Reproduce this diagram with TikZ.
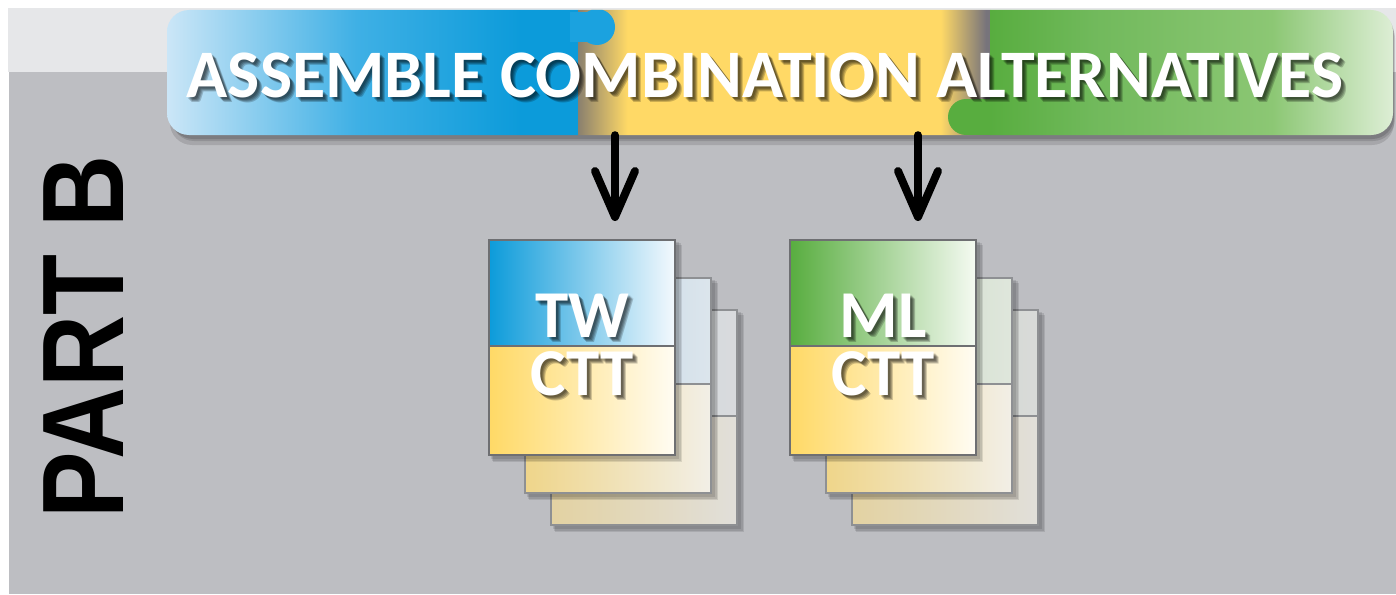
\documentclass[tikz,border=0pt]{standalone}
\usepackage{fontspec}
\usepackage{graphicx}
\usetikzlibrary{arrows.meta,shadings}
\newfontfamily\carlito{Carlito}
\newfontfamily\libsans{Liberation Sans}
\definecolor{bgG}{HTML}{BDBEC2}
\definecolor{band}{HTML}{E6E7E9}
\definecolor{blueS}{HTML}{0C9BDA}
\definecolor{blueM}{HTML}{3FB0E5}
\definecolor{blueL}{HTML}{CBE6F7}
\definecolor{blueT}{HTML}{1BA2DF}
\definecolor{yel}{HTML}{FFD966}
\definecolor{yDark}{HTML}{8A806E}
\definecolor{gDark}{HTML}{77747B}
\definecolor{greenS}{HTML}{58AD3F}
\definecolor{greenM}{HTML}{8CC774}
\definecolor{greenL}{HTML}{DDEED5}
\definecolor{cardB}{HTML}{6E6F72}
\definecolor{backB}{HTML}{8E9093}
% card colours
\definecolor{twTm}{HTML}{7FC7EC}
\definecolor{twTr}{HTML}{F4F9FD}
\definecolor{mlTm}{HTML}{A7D492}
\definecolor{mlTr}{HTML}{F5FAF2}
\definecolor{fBm}{HTML}{FDE9AE}
\definecolor{fBr}{HTML}{FFFCF3}
\definecolor{sBl}{HTML}{EFD58A}
\definecolor{sBm}{HTML}{F0E3BC}
\definecolor{sBr}{HTML}{F2EFE7}
\definecolor{tBl}{HTML}{E3D2A2}
\definecolor{tBm}{HTML}{E2DAC4}
\definecolor{tBr}{HTML}{E1DFDA}
\definecolor{twSl}{HTML}{B8D3E6}
\definecolor{twSm}{HTML}{CBDCE9}
\definecolor{twSr}{HTML}{DCE5EC}
\definecolor{twXl}{HTML}{D0D8E0}
\definecolor{twXm}{HTML}{D4D8DC}
\definecolor{twXr}{HTML}{D8DADD}
\definecolor{mlSl}{HTML}{C4DBBB}
\definecolor{mlSm}{HTML}{D4E0CF}
\definecolor{mlSr}{HTML}{DFE6DC}
\definecolor{mlXl}{HTML}{D2D9D0}
\definecolor{mlXm}{HTML}{D5D8D4}
\definecolor{mlXr}{HTML}{D8DAD8}
\pgfdeclarehorizontalshading{bluepiece}{100bp}{color(0bp)=(blueL); color(25bp)=(blueL); color(48bp)=(blueM); color(68bp)=(blueS); color(100bp)=(blueS)}
\pgfdeclarehorizontalshading{yellowpiece}{100bp}{color(0bp)=(yDark); color(25bp)=(yDark); color(31bp)=(yel); color(69bp)=(yel); color(74.5bp)=(gDark); color(100bp)=(gDark)}
\pgfdeclarehorizontalshading{greenpiece}{100bp}{color(0bp)=(greenS); color(25bp)=(greenS); color(38bp)=(greenS!85!white); color(60bp)=(greenM); color(75bp)=(greenL); color(100bp)=(greenL)}
\tikzset{
  bigarrow/.style={line width=8pt, line cap=round, -{Straight Barb[length=46pt,width=40pt,round]}},
  titlefont/.style={font=\carlito\bfseries\fontsize{68}{68}\selectfont},
  cardfont/.style={font=\carlito\bfseries\fontsize{67}{67}\selectfont},
  whitetxt/.style={text=white, inner sep=0pt},
}
% white text with a soft dark drop shadow, all in one node
\newcommand\shadowsub[2]{\rlap{\smash{\hspace{#1pt}\raisebox{-#1pt}{#2}}}}
\newcommand\shtext[1]{{\color{black}\pgfsetfillopacity{0.2}%
  \shadowsub{2}{#1}\shadowsub{3}{#1}\shadowsub{4}{#1}\shadowsub{5}{#1}%
  \pgfsetfillopacity{1}}#1}
\newcommand\cardbody[9]{%
  \fill[black,opacity=0.10] (#1+2,#2+2) rectangle (#1+190,#2+219);
  \fill[black,opacity=0.10] (#1+3,#2+3) rectangle (#1+192,#2+221);
  \fill[black,opacity=0.10] (#1+4,#2+5) rectangle (#1+193,#2+222);
  \shade[left color=#3,middle color=#4,right color=#5] (#1,#2) rectangle (#1+186,#2+106);
  \shade[left color=#6,middle color=#7,right color=#8] (#1,#2+106) rectangle (#1+186,#2+215);
  \draw[#9,line width=1.2pt] (#1,#2) rectangle (#1+186,#2+215);
  \draw[#9,line width=1.2pt] (#1,#2+106) -- (#1+186,#2+106);
}
\begin{document}
\begin{tikzpicture}[x=1pt,y=-1pt]
\useasboundingbox (0,0) rectangle (1396,594);
% background
\fill[white] (0,0) rectangle (1396,594);
\fill[band] (8,8) rectangle (1396,72);
\fill[bgG] (9,72) rectangle (1396,594);
% PART B
\node[font=\libsans\bfseries\fontsize{116}{116}\selectfont, rotate=90, inner sep=0pt] (partb) at (84,337) {\scalebox{0.86}[1]{PART B}};
% banner shadow
\fill[black,opacity=0.12,rounded corners=22pt] (172,16) rectangle (1395,141);
\fill[black,opacity=0.14,rounded corners=22pt] (171,14) rectangle (1394,139);
\fill[black,opacity=0.12,rounded corners=22pt] (170,12) rectangle (1394,145);
% banner
\begin{scope}
  \clip[rounded corners=22pt] (167,10) rectangle (1393,135);
  \shade[shading=bluepiece] (167,10) rectangle (578,135);
  \shade[shading=yellowpiece] (578,10) rectangle (990,135);
  \shade[shading=greenpiece] (990,10) rectangle (1393,135);
  \fill[blueT] (570,12) rectangle (590,42);
  \fill[blueT] (597,27) circle (18);
  \fill[greenS] (966,99) rectangle (992,135);
  \fill[greenS] (966,117) circle (18);
\end{scope}
\node[minimum width=1226pt, minimum height=125pt, inner sep=0pt] (banner) at (780,72.5) {};
% title
\node[titlefont, whitetxt] (title) at (765,75) {\shtext{ASSEMBLE COMBINATION ALTERNATIVES}};
% card stacks
\cardbody{551}{310}{twXl}{twXm}{twXr}{tBl}{tBm}{tBr}{backB}
\cardbody{525}{278}{twSl}{twSm}{twSr}{sBl}{sBm}{sBr}{backB}
\cardbody{489}{240}{blueS}{twTm}{twTr}{yel}{fBm}{fBr}{cardB}
\cardbody{852}{310}{mlXl}{mlXm}{mlXr}{tBl}{tBm}{tBr}{backB}
\cardbody{826}{278}{mlSl}{mlSm}{mlSr}{sBl}{sBm}{sBr}{backB}
\cardbody{790}{240}{greenS}{mlTm}{mlTr}{yel}{fBm}{fBr}{cardB}
\node[minimum width=186pt, minimum height=215pt, inner sep=0pt] (tw) at (582,347.5) {};
\node[minimum width=186pt, minimum height=215pt, inner sep=0pt] (ml) at (883,347.5) {};
% card texts
\node[cardfont, whitetxt] (twlabel) at (582,316) {\shtext{TW}};
\node[cardfont, whitetxt] (twctt) at (582,374) {\shtext{CTT}};
\node[cardfont, whitetxt] (mllabel) at (883,316) {\shtext{ML}};
\node[cardfont, whitetxt] (mlctt) at (883,374) {\shtext{CTT}};
% arrows
\coordinate (a1s) at (banner.south -| 615,0);
\coordinate (a1e) at (615,221);
\coordinate (a2s) at (banner.south -| 918,0);
\coordinate (a2e) at (918,221);
\draw[bigarrow] (a1s) -- (a1e);
\draw[bigarrow] (a2s) -- (a2e);
\end{tikzpicture}
\end{document}
